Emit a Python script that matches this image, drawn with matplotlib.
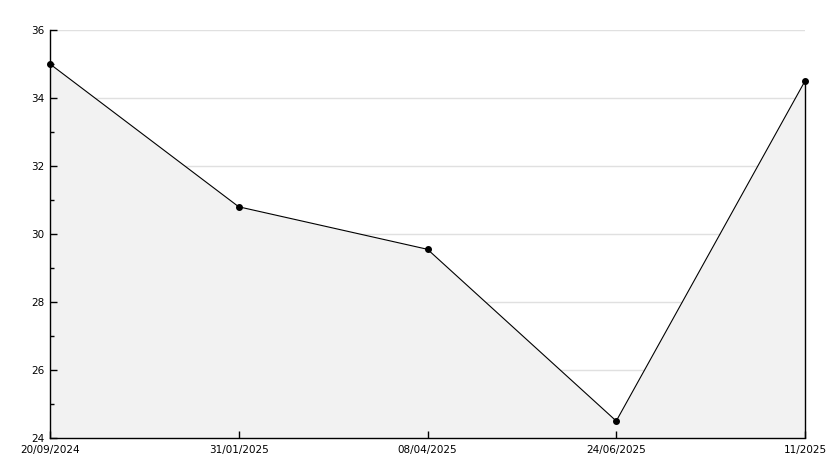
import numpy as np
import matplotlib
matplotlib.use('Agg')
import matplotlib.pyplot as plt
from matplotlib.ticker import MultipleLocator

# dados
datas = ['20/09/2024', '31/01/2025', '08/04/2025', '24/06/2025', '11/2025']
valores = [35.0, 30.8, 29.55, 24.5, 34.5]

x = np.arange(len(datas))

fig = plt.figure(figsize=(8.34, 4.68), dpi=100)
ax = fig.add_axes([50 / 834, 30 / 468, 755 / 834, 408 / 468])

# grade horizontal atrás da área
for yv in range(26, 37, 2):
    ax.axhline(yv, color='#e0e0e0', linewidth=1, zorder=0.3)

# área preenchida sob a linha
ax.fill_between(x, valores, 24, color='#f2f2f2', linewidth=0, zorder=0.4)
ax.vlines(x[-1], 24, valores[-1], color='black', linewidth=1, zorder=3, clip_on=False)
ax.plot(x, valores, color='black', linewidth=0.8, marker='o', markersize=4,
        zorder=4, clip_on=False)

ax.set_xlim(0, len(datas) - 1)
ax.set_ylim(24, 36)
ax.set_xticks(x)
ax.set_xticklabels(datas)
ax.yaxis.set_major_locator(MultipleLocator(2))
ax.yaxis.set_minor_locator(MultipleLocator(1))
ax.set_axisbelow(True)

for lado in ['top', 'right']:
    ax.spines[lado].set_visible(False)
ax.spines['left'].set_linewidth(1)
ax.spines['bottom'].set_linewidth(1)

ax.tick_params(axis='both', which='major', direction='in', length=5, width=1,
               labelsize=7.5)
ax.tick_params(axis='y', which='major', pad=4)
ax.tick_params(axis='x', which='major', pad=5)
ax.tick_params(axis='y', which='minor', direction='in', length=3, width=1)

# rótulo 24 um pouco acima para não encostar na data
ax.get_yticklabels()[0].set_verticalalignment('bottom')

plt.savefig('out.png', dpi=100, facecolor='white')
